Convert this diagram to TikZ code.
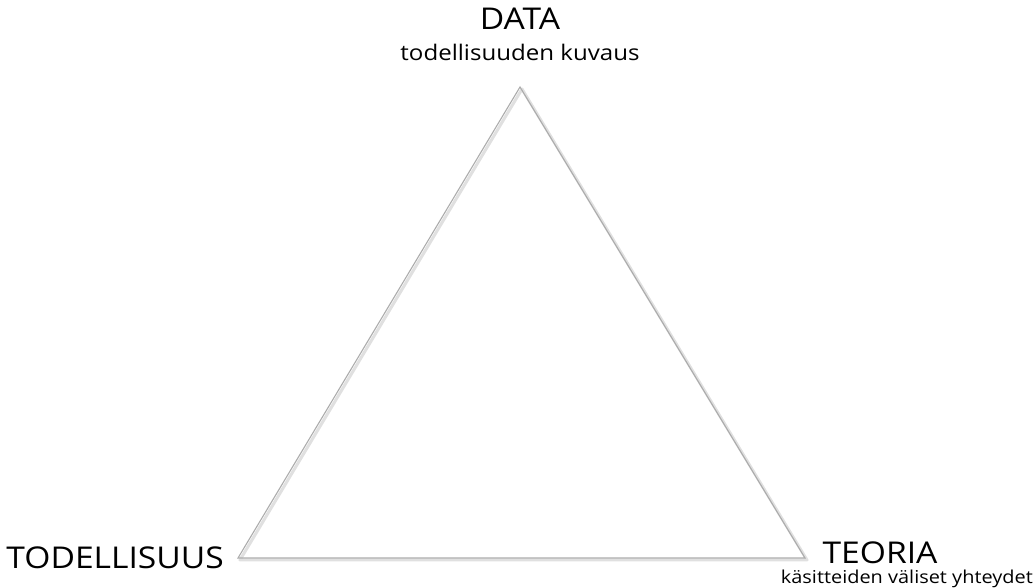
\documentclass[tikz,border=0pt]{standalone}
\usepackage{fontspec}
\setmainfont[FakeStretch=1.12]{Open Sans}
\usepackage{tikz}
\usetikzlibrary{positioning}

\begin{document}
\begin{tikzpicture}[x=1pt,y=1pt]
\useasboundingbox (0,0) rectangle (1035,588);
\tikzset{
  kulma/.style={gray!65, line width=1.1pt, line join=miter},
  varjo/.style={black!12, line width=3pt, line join=round},
  otsikko/.style={font=\fontsize{30}{32}\selectfont, inner sep=0pt},
  selite/.style={font=\fontsize{21.5}{23}\selectfont, inner sep=0pt}
}
\coordinate (top)   at (520,501);
\coordinate (left)  at (238,30);
\coordinate (right) at (805,30);

% shadow and triangle
\draw[varjo] ([shift={(2,-2)}]top) -- ([shift={(2,-2)}]left) -- ([shift={(2,-2)}]right) -- cycle;
\draw[kulma] (top) -- (left) -- (right) -- cycle;

\node[otsikko, anchor=base] (data) at (520,558) {DATA};
\node[selite, anchor=base] (kuvaus) at (520,527) {todellisuuden kuvaus};
\node[otsikko, anchor=base east] (todellisuus) at (224,19) {TODELLISUUS};
\node[otsikko, anchor=base] (teoria) at (880,24) {TEORIA};
\node[selite, font=\fontsize{17.8}{19}\selectfont, anchor=base east] (yhteydet) at (1033,4) {käsitteiden väliset yhteydet};
\end{tikzpicture}
\end{document}
